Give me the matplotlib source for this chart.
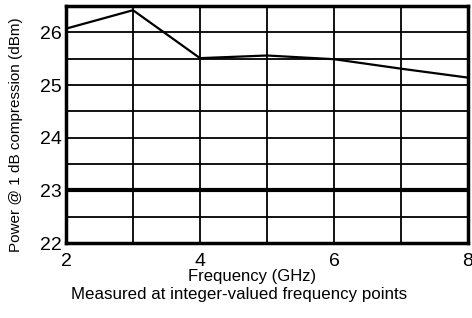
import matplotlib
matplotlib.use("Agg")
import matplotlib.pyplot as plt
from matplotlib import font_manager

freq_ghz = [2, 3, 4, 5, 6, 7, 8]
power_dbm = [26.07, 26.42, 25.51, 25.56, 25.49, 25.31, 25.14]
limit_dbm = 23.0
x_ticks = [2, 4, 6, 8]
y_ticks = [22, 23, 24, 25, 26]

names = {f.name for f in font_manager.fontManager.ttflist}
fam = ['Liberation Sans Narrow', 'Liberation Sans', 'DejaVu Sans']
fam = [f for f in fam if f in names] or ['DejaVu Sans']
plt.rcParams['font.family'] = fam

W, H = 472, 318
fig = plt.figure(figsize=(W / 100, H / 100), dpi=100)
ax = fig.add_axes([66 / W, 1 - 243 / H, 402 / W, 237 / H])

ax.set_xlim(2, 8)
ax.set_ylim(22, 26.5)
ax.set_xticks(x_ticks)
ax.set_yticks(y_ticks)
ax.set_xticks(range(2, 9), minor=True)
ax.set_yticks([22 + 0.5 * i for i in range(10)], minor=True)
ax.grid(which='both', color='black', linewidth=1.3)
ax.set_axisbelow(True)
ax.tick_params(which='both', length=0, labelsize=14)
ax.tick_params(axis='x', pad=7)
ax.tick_params(axis='y', pad=3)

ax.axhline(limit_dbm, color='black', linewidth=3)
ax.plot(freq_ghz, power_dbm, color='black', linewidth=1.6)

for s in ax.spines.values():
    s.set_linewidth(2.5)
    s.set_color('black')

fig.text(252 / W, 1 - 276 / H, 'Frequency (GHz)', ha='center', va='center', fontsize=12)
fig.text(16 / W, 1 - 135 / H, 'Power @ 1 dB compression (dBm)', ha='center', va='center',
         rotation=90, fontsize=11)
fig.text(239 / W, 1 - 295 / H, 'Measured at integer-valued frequency points',
         ha='center', va='center', fontsize=12.2)

fig.savefig('out.png', dpi=100)
